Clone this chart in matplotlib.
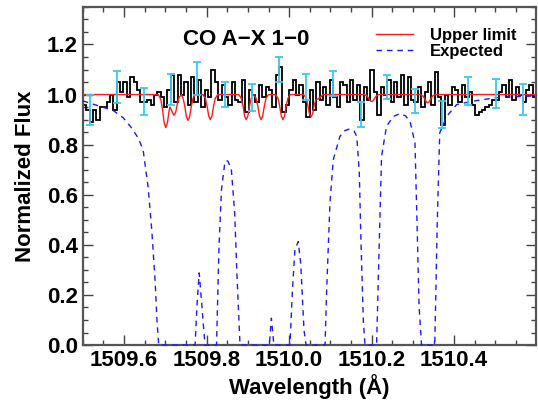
import numpy as np
import matplotlib
matplotlib.use('Agg')
import matplotlib.pyplot as plt
from matplotlib.ticker import MultipleLocator

plt.rcParams['font.family'] = ['Liberation Sans', 'DejaVu Sans']
plt.rcParams['font.weight'] = 'bold'

# observed spectrum, uniform bins from 1509.5 A
wave_start = 1509.5
bin_width = 0.0082
flux = [0.96, 0.94, 0.89, 0.94, 0.90, 0.95, 0.95, 0.97, 1.00,
        0.94, 1.05, 1.01, 1.05, 0.99, 1.07, 1.05, 1.02,
        0.97, 0.97, 0.98, 0.96, 1.00, 1.01, 0.99, 0.95,
        1.02, 1.08, 0.97, 1.08, 1.00, 1.05, 0.96, 1.07, 0.97,
        1.06, 0.95, 1.02, 0.99, 1.10, 1.05, 0.98, 1.04,
        0.99, 0.96, 1.05, 0.98, 0.97, 1.06, 0.93, 1.02,
        1.00, 0.97, 1.04, 0.99, 1.03, 1.02, 0.95, 1.08,
        1.11, 0.93, 0.96, 1.02, 1.06, 1.00, 1.04, 0.97,
        0.91, 1.02, 0.94, 1.05, 0.98, 1.03, 0.96, 1.06,
        0.99, 0.95, 1.05, 1.04, 0.97, 1.06, 0.98, 1.04,
        0.90, 1.03, 0.98, 1.10, 1.01, 0.92, 1.03, 1.00,
        1.06, 0.97, 1.05, 0.99, 1.08, 0.96, 1.07, 0.98,
        0.97, 1.03, 0.95, 1.01, 1.05, 0.96, 1.09, 0.99,
        0.88, 1.00, 0.96, 1.03, 1.02, 0.97, 1.04, 0.99,
        1.01, 0.96, 0.92, 0.93, 0.94, 0.95, 0.96, 0.98,
        0.98, 1.01, 1.04, 0.99, 1.06, 0.98, 1.03, 1.00,
        0.97, 1.02, 1.04, 0.99]

# representative error bars
err_wave = [1509.517, 1509.582, 1509.648, 1509.713, 1509.777, 1509.844,
            1509.909, 1509.976, 1510.042, 1510.107, 1510.173, 1510.238,
            1510.305, 1510.370, 1510.434, 1510.501, 1510.567]
err_flux = [0.94, 1.03, 0.973, 1.022, 1.065, 1.00, 0.987, 1.10, 1.03,
            1.045, 0.92, 1.03, 0.975, 0.92, 1.015, 1.005, 0.982]
err_size = [0.06, 0.063, 0.053, 0.062, 0.065, 0.049, 0.054, 0.049, 0.053,
            0.049, 0.049, 0.048, 0.048, 0.055, 0.055, 0.058, 0.062]

# upper limit model
upper_wave = [1509.500, 1509.683, 1509.689, 1509.693, 1509.697, 1509.701, 1509.705,
              1509.709, 1509.711, 1509.713, 1509.717, 1509.721, 1509.725, 1509.729,
              1509.733, 1509.739, 1509.743, 1509.747, 1509.751, 1509.755, 1509.759,
              1509.763, 1509.767, 1509.773, 1509.791, 1509.797, 1509.801, 1509.805,
              1509.809, 1509.813, 1509.817, 1509.821, 1509.827, 1509.878, 1509.884,
              1509.888, 1509.892, 1509.896, 1509.900, 1509.904, 1509.908, 1509.914,
              1509.920, 1509.924, 1509.928, 1509.932, 1509.936, 1509.940, 1509.944,
              1509.950, 1509.967, 1509.973, 1509.977, 1509.981, 1509.985, 1509.989,
              1509.993, 1509.997, 1510.003, 1510.035, 1510.041, 1510.045, 1510.049,
              1510.053, 1510.057, 1510.061, 1510.065, 1510.070, 1510.076, 1510.082,
              1510.182, 1510.188, 1510.192, 1510.196, 1510.200, 1510.204, 1510.208,
              1510.212, 1510.218, 1510.318, 1510.324, 1510.328, 1510.332, 1510.336,
              1510.340, 1510.344, 1510.348, 1510.354, 1510.600]
upper_flux = [1.0, 1.0, 0.980, 0.941, 0.888, 0.868, 0.888,
              0.935, 0.950, 0.945, 0.929, 0.917, 0.929, 0.963,
              0.988, 1.0, 0.985, 0.954, 0.912, 0.897, 0.912,
              0.954, 0.985, 1.0, 1.0, 0.985, 0.955, 0.915,
              0.900, 0.915, 0.955, 0.985, 1.0, 1.0, 0.985,
              0.955, 0.915, 0.900, 0.915, 0.955, 0.985, 1.0,
              0.985, 0.955, 0.915, 0.900, 0.915, 0.955, 0.985,
              1.0, 1.0, 0.985, 0.955, 0.915, 0.900, 0.915,
              0.955, 0.985, 1.0, 1.0, 0.987, 0.960, 0.924,
              0.910, 0.924, 0.960, 0.980, 0.982, 0.990, 1.0,
              1.0, 0.996, 0.987, 0.976, 0.972, 0.976, 0.987,
              0.996, 1.0, 1.0, 0.995, 0.985, 0.972, 0.967,
              0.972, 0.985, 0.995, 1.0, 1.0]

# expected model
exp_wave = [1509.500, 1509.541, 1509.573, 1509.598, 1509.618, 1509.634, 1509.646,
            1509.658, 1509.667, 1509.675, 1509.680, 1509.684, 1509.772, 1509.777,
            1509.782, 1509.788, 1509.796, 1509.824, 1509.830, 1509.836, 1509.844,
            1509.848, 1509.852, 1509.860, 1509.868, 1509.874, 1509.881, 1509.952,
            1509.957, 1509.963, 1510.002, 1510.008, 1510.014, 1510.022, 1510.028,
            1510.036, 1510.041, 1510.087, 1510.091, 1510.099, 1510.107, 1510.123,
            1510.135, 1510.147, 1510.157, 1510.164, 1510.170, 1510.174, 1510.180,
            1510.184, 1510.212, 1510.218, 1510.224, 1510.236, 1510.252, 1510.268,
            1510.282, 1510.293, 1510.305, 1510.310, 1510.315, 1510.321, 1510.353,
            1510.359, 1510.365, 1510.382, 1510.406, 1510.434, 1510.462, 1510.500,
            1510.530, 1510.600]
exp_flux = [0.975, 0.953, 0.937, 0.907, 0.867, 0.827, 0.78,
            0.633, 0.46, 0.26, 0.087, 0.0, 0.0, 0.167,
            0.288, 0.167, 0.0, 0.0, 0.393, 0.62, 0.727,
            0.737, 0.733, 0.70, 0.527, 0.26, 0.0, 0.0,
            0.107, 0.0, 0.0, 0.22, 0.38, 0.413, 0.327,
            0.06, 0.0, 0.0, 0.22, 0.57, 0.74, 0.833,
            0.856, 0.863, 0.855, 0.833, 0.69, 0.42, 0.09,
            0.0, 0.0, 0.38, 0.753, 0.873, 0.912, 0.924,
            0.915, 0.893, 0.807, 0.487, 0.153, 0.0, 0.0,
            0.487, 0.847, 0.913, 0.960, 0.970, 0.978, 0.987,
            0.99, 0.995]

edges = wave_start + bin_width * np.arange(len(flux) + 1)

fig = plt.figure(figsize=(5.38, 4.05), dpi=100)
ax = fig.add_axes([0.154, 0.148, 0.842, 0.835])

ax.stairs(flux, edges, color='black', lw=1.3, zorder=2)
ax.plot(upper_wave, upper_flux, color='#ff1a1a', lw=1.0, zorder=3, label='Upper limit')
ax.plot(exp_wave, exp_flux, color='#1a1aff', lw=1.0, ls=(0, (4, 3.5)), zorder=3,
        clip_on=False, label='Expected')
ax.errorbar(err_wave, err_flux, yerr=err_size, fmt='none', ecolor='#3cc8f0',
            elinewidth=1.3, capsize=2.6, capthick=1.3, zorder=4)

ax.set_xlim(1509.5, 1510.598)
ax.set_ylim(0.0, 1.35)
ax.set_xticks([1509.6, 1509.8, 1510.0, 1510.2, 1510.4])
ax.set_xticklabels(['1509.6', '1509.8', '1510.0', '1510.2', '1510.4'])
ax.set_yticks([0.0, 0.2, 0.4, 0.6, 0.8, 1.0, 1.2])
ax.set_yticklabels(['0.0', '0.2', '0.4', '0.6', '0.8', '1.0', '1.2'])
ax.xaxis.set_minor_locator(MultipleLocator(0.05))
ax.yaxis.set_minor_locator(MultipleLocator(0.05))
ax.tick_params(which='both', direction='in', top=True, right=True,
               labelsize=16, color='#444444', width=1.0)
ax.tick_params(which='major', length=7)
ax.tick_params(which='minor', length=3.5)
for s in ax.spines.values():
    s.set_color('#555555')
    s.set_linewidth(1.6)

ax.set_xlabel('Wavelength (Å)', fontsize=16, fontweight='bold', labelpad=2)
ax.set_ylabel('Normalized Flux', fontsize=16, fontweight='bold', labelpad=8)

ax.text(0.36, 0.905, 'CO A\u2212X 1\u22120', transform=ax.transAxes,
        ha='center', va='center', fontsize=16, fontweight='bold')

ax.legend(loc='upper left', bbox_to_anchor=(0.633, 0.958), frameon=False,
          handlelength=2.2, handletextpad=1.0, labelspacing=0.05,
          borderaxespad=0.0, prop={'weight': 'bold', 'size': 12})

fig.savefig('out.png', dpi=100)
